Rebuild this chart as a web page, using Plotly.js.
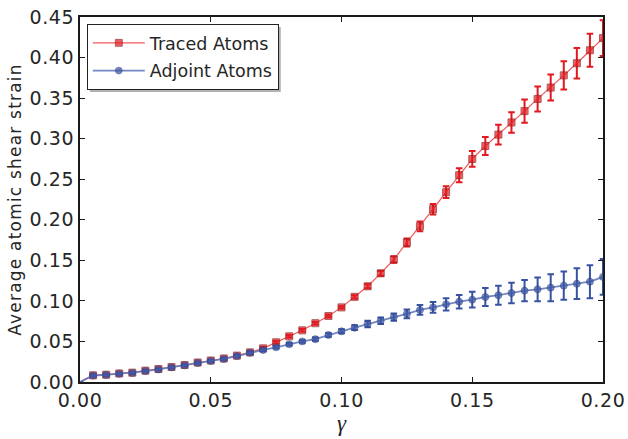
<!DOCTYPE html>
<html>
<head>
<meta charset="utf-8">
<script src="https://cdn.plot.ly/plotly-3.0.1.min.js"></script>
<style>
html, body { margin: 0; padding: 0; background: #fff; }
#chart { width: 628px; height: 439px; }
#chart .xtick text, #chart .ytick text { letter-spacing: 0.6px; }
#chart .g-ytitle text { letter-spacing: 1.2px; }
</style>
</head>
<body>
<div id="chart"></div>
<script>
const gamma = [0.000, 0.005, 0.010, 0.015, 0.020, 0.025, 0.030, 0.035, 0.040, 0.045,
               0.050, 0.055, 0.060, 0.065, 0.070, 0.075, 0.080, 0.085, 0.090, 0.095,
               0.100, 0.105, 0.110, 0.115, 0.120, 0.125, 0.130, 0.135, 0.140, 0.145,
               0.150, 0.155, 0.160, 0.165, 0.170, 0.175, 0.180, 0.185, 0.190, 0.195, 0.200];

const tracedMean = [0.0000, 0.0082, 0.0090, 0.0105, 0.0115, 0.0140, 0.0160, 0.0185, 0.0210, 0.0240,
                    0.0265, 0.0290, 0.0325, 0.0365, 0.0415, 0.0490, 0.0563, 0.0637, 0.0725, 0.0814,
                    0.0920, 0.1050, 0.1180, 0.1340, 0.1510, 0.1720, 0.1920, 0.2130, 0.2340, 0.2550,
                    0.2750, 0.2910, 0.3050, 0.3200, 0.3340, 0.3490, 0.3630, 0.3780, 0.3930, 0.4090, 0.4240];
const tracedErr = [0.0000, 0.0010, 0.0010, 0.0010, 0.0010, 0.0010, 0.0010, 0.0010, 0.0010, 0.0010,
                   0.0010, 0.0010, 0.0010, 0.0015, 0.0015, 0.0015, 0.0015, 0.0015, 0.0015, 0.0015,
                   0.0015, 0.0020, 0.0025, 0.0030, 0.0040, 0.0050, 0.0060, 0.0066, 0.0072, 0.0086,
                   0.0097, 0.0110, 0.0123, 0.0127, 0.0144, 0.0154, 0.0160, 0.0173, 0.0187, 0.0203, 0.0220];

const adjointMean = [0.0000, 0.0080, 0.0088, 0.0102, 0.0112, 0.0135, 0.0155, 0.0180, 0.0205, 0.0235,
                     0.0260, 0.0285, 0.0320, 0.0360, 0.0395, 0.0428, 0.0465, 0.0500, 0.0528, 0.0580,
                     0.0625, 0.0670, 0.0715, 0.0756, 0.0800, 0.0840, 0.0888, 0.0920, 0.0958, 0.0990,
                     0.1015, 0.1048, 0.1070, 0.1097, 0.1126, 0.1143, 0.1163, 0.1188, 0.1212, 0.1237, 0.1295];
const adjointErr = [0.0000, 0.0010, 0.0010, 0.0010, 0.0010, 0.0010, 0.0010, 0.0010, 0.0010, 0.0010,
                    0.0010, 0.0010, 0.0010, 0.0015, 0.0015, 0.0015, 0.0015, 0.0015, 0.0020, 0.0022,
                    0.0025, 0.0030, 0.0039, 0.0040, 0.0045, 0.0053, 0.0060, 0.0066, 0.0076, 0.0084,
                    0.0097, 0.0110, 0.0117, 0.0127, 0.0130, 0.0146, 0.0166, 0.0175, 0.0190, 0.0203, 0.0220];

const seriesNames = ["Traced Atoms", "Adjoint Atoms"];
const xTickVals = [0.00, 0.05, 0.10, 0.15, 0.20];
const xTickText = ["0.00", "0.05", "0.10", "0.15", "0.20"];
const yTickVals = [0.00, 0.05, 0.10, 0.15, 0.20, 0.25, 0.30, 0.35, 0.40, 0.45];
const yTickText = ["0.00", "0.05", "0.10", "0.15", "0.20", "0.25", "0.30", "0.35", "0.40", "0.45"];

const markerSizes = gamma.map((g, i) => i === 0 ? 0 : 7);

const red = "#e3191f";
const blue = "#3953a4";

const traces = [
  {
    x: gamma, y: tracedMean, name: seriesNames[0], type: "scatter", mode: "lines+markers",
    legendgroup: "a",
    line: { color: "rgba(238,70,70,0.9)", width: 1.2 },
    marker: { symbol: "square", size: markerSizes, color: red, line: { color: "#8c1a1a", width: 1 } },
    error_y: { type: "data", array: tracedErr, visible: true, color: red, thickness: 2, width: 3.3 }
  },
  {
    x: gamma, y: adjointMean, name: seriesNames[1], type: "scatter", mode: "lines+markers",
    legendgroup: "b",
    line: { color: "rgba(90,115,185,0.85)", width: 1.8 },
    marker: { symbol: "circle", size: markerSizes, color: blue, line: { color: "#2a3c78", width: 0.8 } },
    error_y: { type: "data", array: adjointErr, visible: true, color: blue, thickness: 2, width: 3.3 }
  }
];

const fontFam = "DejaVu Sans, sans-serif";
const textCol = "#262626";

const layout = {
  width: 628, height: 439,
  margin: { l: 80, r: 25, t: 17, b: 57 },
  paper_bgcolor: "#ffffff", plot_bgcolor: "#ffffff",
  showlegend: true,
  font: { family: fontFam, color: textCol, size: 17 },
  xaxis: {
    range: [0, 0.2], tickvals: xTickVals, ticktext: xTickText,
    showline: true, linecolor: "#1a1a1a", linewidth: 2, mirror: "ticks",
    ticks: "inside", ticklen: 5, tickwidth: 1.2, tickcolor: "#1a1a1a",
    showgrid: false, zeroline: false,
    tickfont: { family: fontFam, size: 19, color: textCol },
    title: { text: "γ", font: { family: "Liberation Serif, serif", size: 23, color: textCol, style: "italic" }, standoff: 0 }
  },
  yaxis: {
    range: [0, 0.45], tickvals: yTickVals, ticktext: yTickText,
    showline: true, linecolor: "#1a1a1a", linewidth: 2, mirror: "ticks",
    ticks: "inside", ticklen: 5, tickwidth: 1.2, tickcolor: "#1a1a1a",
    showgrid: false, zeroline: false,
    tickfont: { family: fontFam, size: 19, color: textCol },
    title: { text: "Average atomic shear strain", font: { family: fontFam, size: 17, color: textCol }, standoff: 6 }
  },
  legend: {
    x: 0.013, y: 0.981, xanchor: "left", yanchor: "top",
    bgcolor: "#ffffff", bordercolor: "#222222", borderwidth: 1,
    font: { family: fontFam, size: 17.5, color: textCol },
    traceorder: "grouped", tracegroupgap: 2, itemwidth: 52
  },
  shapes: []
};

const gd = document.getElementById("chart");
Plotly.newPlot(gd, traces, layout, { displayModeBar: false, staticPlot: true }).then(() => {
  const bg = gd.querySelector(".legend rect.bg");
  if (!bg) return;
  const r = bg.getBoundingClientRect();
  const c = gd.getBoundingClientRect();
  const s = gd._fullLayout._size;
  const off = 2.5;
  const px = v => (v - c.left - s.l) / s.w;
  const py = v => 1 - (v - c.top - s.t) / s.h;
  return Plotly.relayout(gd, {
    shapes: [{
      type: "rect", xref: "paper", yref: "paper",
      x0: px(r.left + off), x1: px(r.right + off),
      y0: py(r.bottom + off), y1: py(r.top + off),
      line: { width: 0 }, fillcolor: "rgba(0,0,0,0.3)", layer: "above"
    }]
  });
});
</script>
</body>
</html>
